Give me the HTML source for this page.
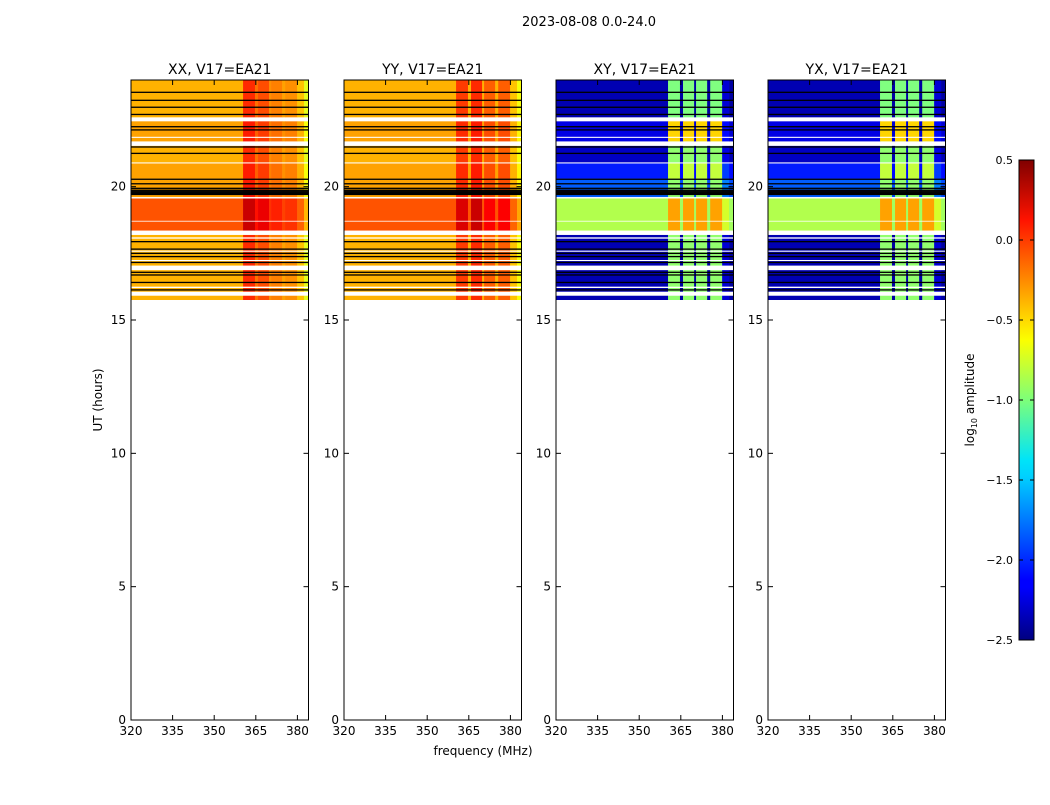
<!DOCTYPE html>
<html><head><meta charset="utf-8"><style>
body{margin:0;background:#fff;}
svg text{font-family:"DejaVu Sans","Liberation Sans",sans-serif;}
</style></head><body>
<svg id="fig" width="1050" height="800" xmlns="http://www.w3.org/2000/svg">
<defs>
<linearGradient id="jetgrad" x1="0" y1="1" x2="0" y2="0">
<stop offset="0" stop-color="#000080"/><stop offset="0.11" stop-color="#0000ff"/>
<stop offset="0.125" stop-color="#0000ff"/><stop offset="0.34" stop-color="#00d0ff"/>
<stop offset="0.375" stop-color="#00e4f8"/><stop offset="0.5" stop-color="#7dff7a"/>
<stop offset="0.625" stop-color="#fbff00"/><stop offset="0.66" stop-color="#ffe000"/>
<stop offset="0.875" stop-color="#ff1300"/><stop offset="1" stop-color="#800000"/>
</linearGradient>
</defs>
<text x="589" y="26" font-size="13" text-anchor="middle">2023-08-08 0.0-24.0</text>
<text x="102" y="400" font-size="12" text-anchor="middle" transform="rotate(-90 102 400)">UT (hours)</text>
<text x="483" y="755" font-size="12" text-anchor="middle">frequency (MHz)</text>
<g id="panels"></g>
<g id="cbar"></g>
</svg>
<script>
// ---- data ----
const panelTitles = ["XX, V17=EA21","YY, V17=EA21","XY, V17=EA21","YX, V17=EA21"];
const freqEdges = [320,360.4,364.7,365.8,369.8,370.5,374.5,375.6,379.9,382.4,384];
const xxOffsets = [0,0.4,0.2,0.3,0.1,0.15,0.05,0.1,-0.05,-0.3];
const yyOffsets = [0,0.35,0,0.4,0,0.25,0,0.25,-0.05,-0.25];
const crossIsStrip = [0,1,0,1,0,1,0,1,0,0];
const crossOffsets = [0,0,-0.05,0,-0.05,0,-0.05,0,0.1,-0.05];
const bandStart = [24,22.45,21.69,20.9,20.3,19.56,18.2];
const bandEnd = [22.6,21.7,20.9,20.3,19.6,18.35,15.75];
const parBase = [-0.4,-0.35,-0.4,-0.35,-0.35,-0.12,-0.4];
const crossBase = [-2.35,-2.2,-2.3,-2.05,-1.85,-0.85,-2.35];
const crossStrip = [-1.0,-0.5,-0.95,-0.8,-0.95,-0.4,-0.95];
const whiteGapStart = [22.59,21.87,21.69,20.91,19.61,18.72,18.35,18.10,17.60,17.25,17.04,16.25,16.06];
const whiteGapEnd = [22.47,21.83,21.53,20.87,19.56,18.69,18.19,18.05,17.56,17.21,16.87,16.20,15.91];
const flagLines = [23.54,23.24,22.98,22.71,22.25,22.13,21.49,21.25,20.28,20.11,19.94,19.87,19.83,19.79,19.75,19.71,17.94,17.66,17.50,17.38,17.16,16.79,16.69,16.41,16.13];
const xTicks = [320,335,350,365,380];
const yTicks = [0,5,10,15,20];
const cbTicks = [0.5,0.0,-0.5,-1.0,-1.5,-2.0,-2.5];
const cbLabels = ["0.5","0.0","\u22120.5","\u22121.0","\u22121.5","\u22122.0","\u22122.5"];

// ---- layout ----
const panelLeft = [131,344,556,768];
const PW = 177.5, PT = 80, PB = 720;
const vmin=-2.5, vmax=0.5;
const NS="http://www.w3.org/2000/svg";
function xs(i,f){return panelLeft[i]+(f-320)/(384-320)*PW;}
function ys(h){return PB-(h/24)*(PB-PT);}
function jet(v){
  let t=Math.max(0,Math.min(1,(v-vmin)/(vmax-vmin)));
  const c=x=>Math.max(0,Math.min(1,x));
  const r=c(Math.min(4*t-1.5,-4*t+4.5)), g=c(Math.min(4*t-0.5,-4*t+3.5)), b=c(Math.min(4*t+0.5,-4*t+2.5));
  return `rgb(${Math.round(r*255)},${Math.round(g*255)},${Math.round(b*255)})`;
}
function mk(tag,attrs,parent){const e=document.createElementNS(NS,tag);for(const k in attrs)e.setAttribute(k,attrs[k]);parent.appendChild(e);return e;}
const root=document.getElementById('panels');
for(let p=0;p<4;p++){
  const g=mk('g',{},root);
  
  
  const hm=mk('g',{},g);
  
  
  for(let b=0;b<bandStart.length;b++){
    for(let s=0;s<freqEdges.length-1;s++){
      let v;
      if(p===0) v=parBase[b]+xxOffsets[s];
      else if(p===1) v=parBase[b]+yyOffsets[s];
      else v=crossIsStrip[s]?Math.max(crossBase[b]+0.5,crossStrip[b]):crossBase[b]+crossOffsets[s];
      const x0=xs(p,freqEdges[s]),x1=xs(p,freqEdges[s+1]);
      const y0=ys(bandStart[b]),y1=ys(bandEnd[b]);
      const r=mk('rect',{x:x0,y:y0,width:x1-x0+0.3,height:y1-y0,fill:jet(v)},hm);
      
      
    }
  }
  for(let k=0;k<whiteGapStart.length;k++){
    const r=mk('rect',{x:panelLeft[p],y:ys(whiteGapStart[k]),width:PW,height:ys(whiteGapEnd[k])-ys(whiteGapStart[k]),fill:'#fff'},hm);
    
    
  }
  for(let k=0;k<flagLines.length;k++){
    const r=mk('rect',{x:panelLeft[p],y:ys(flagLines[k])-0.6,width:PW,height:1.3,fill:'#000'},hm);
    
    
  }
  const fr=mk('rect',{x:panelLeft[p],y:PT,width:PW,height:PB-PT,fill:'none',stroke:'#000','stroke-width':1},g);
  
  
  const t=mk('text',{x:panelLeft[p]+PW/2,y:74,'font-size':14,'text-anchor':'middle'},g);
  t.textContent=panelTitles[p];
  
  
  for(const f of xTicks){
    const x=xs(p,f);
    mk('line',{x1:x,y1:PB,x2:x,y2:PB-5,stroke:'#000'},g);
    mk('line',{x1:x,y1:PT,x2:x,y2:PT+5,stroke:'#000'},g);
    const l=mk('text',{x:x,y:PB+15,'font-size':12,'text-anchor':'middle'},g);
    l.textContent=f;
    
    
  }
  for(const h of yTicks){
    const y=ys(h);
    mk('line',{x1:panelLeft[p],y1:y,x2:panelLeft[p]+5,y2:y,stroke:'#000'},g);
    mk('line',{x1:panelLeft[p]+PW,y1:y,x2:panelLeft[p]+PW-5,y2:y,stroke:'#000'},g);
    const l=mk('text',{x:panelLeft[p]-5,y:y+4,'font-size':12,'text-anchor':'end'},g);
    l.textContent=h;
    
    
  }
}
// colorbar
const cb=document.getElementById('cbar');
const CX=1019,CW=15,CT=160,CB=640;
mk('rect',{x:CX,y:CT,width:CW,height:CB-CT,fill:'url(#jetgrad)',stroke:'#000','stroke-width':1},cb);
for(let i=0;i<cbTicks.length;i++){
  const y=CB-(cbTicks[i]-vmin)/(vmax-vmin)*(CB-CT);
  mk('line',{x1:CX,y1:y,x2:CX+4,y2:y,stroke:'#000'},cb);
  mk('line',{x1:CX+CW,y1:y,x2:CX+CW-4,y2:y,stroke:'#000'},cb);
  const l=mk('text',{x:1013,y:y+4,'font-size':11,'text-anchor':'end'},cb);
  l.textContent=cbLabels[i];
  
  
}
const cl=mk('text',{x:974,y:400,'font-size':12,'text-anchor':'middle',transform:'rotate(-90 974 400)'},cb);
cl.innerHTML='log<tspan font-size="8" dy="3">10</tspan><tspan dy="-3"> amplitude</tspan>';


</script>
</body></html>
